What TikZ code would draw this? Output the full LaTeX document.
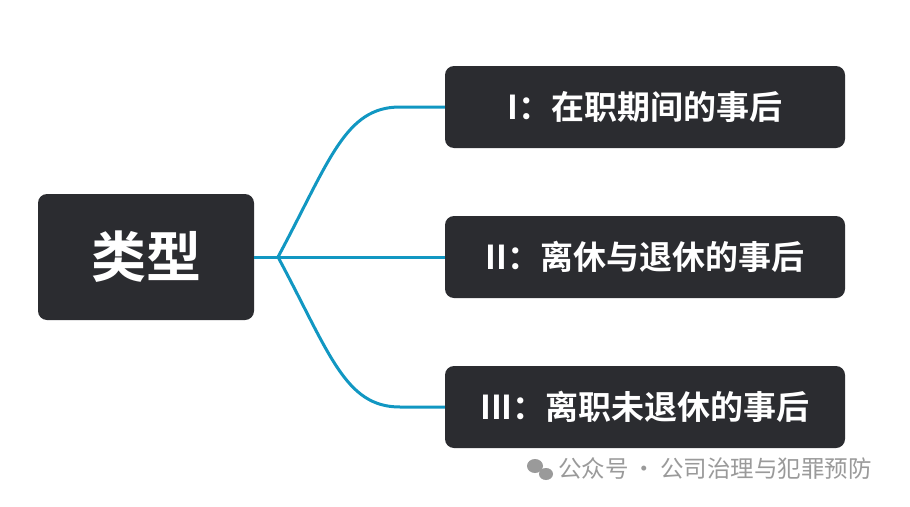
\documentclass[tikz,border=0pt]{standalone}
\usepackage{fontspec}
\newfontfamily\cjk{Noto Sans CJK SC}[BoldFont={* Bold}]
\definecolor{boxc}{HTML}{2B2C30}
\definecolor{linec}{HTML}{1197C2}
\definecolor{wm}{HTML}{9A9A9A}
\begin{document}
\begin{tikzpicture}[x=1pt,y=-1pt,
  box/.style={fill=boxc,rounded corners=9pt,text=white,font=\cjk\bfseries},
  lbl/.style={box,minimum width=400pt,minimum height=82pt,font=\cjk\bfseries\fontsize{33}{33}\selectfont},
  conn/.style={draw=linec,line width=3pt}]
\useasboundingbox (0,0) rectangle (910,506);
\fill[white] (0,0) rectangle (910,506);
\node[box,minimum width=216pt,minimum height=126pt,font=\cjk\bfseries\fontsize{55}{55}\selectfont] (root) at (146,257) {类型};
\node[lbl] (a) at (645,107) {I：在职期间的事后};
\node[lbl] (b) at (645,257) {II：离休与退休的事后};
\node[lbl] (c) at (645,407) {III：离职未退休的事后};
\coordinate (j) at (278,257);
\draw[conn] (root.east) -- (j);
\draw[conn] (j) .. controls (330,160) and (345,107) .. (400,107) -- (a.west);
\draw[conn] (j) -- (b.west);
\draw[conn] (j) .. controls (330,354) and (345,407) .. (400,407) -- (c.west);
\fill[wm] (535,466) ellipse (8pt and 7pt);
\fill[wm] (546,474) ellipse (7pt and 6pt);
\node[text=wm,font=\cjk\fontsize{23.5}{24}\selectfont,anchor=west,inner sep=0pt] (w) at (558,469) {公众号\,·\,公司治理与犯罪预防};
\end{tikzpicture}
\end{document}
